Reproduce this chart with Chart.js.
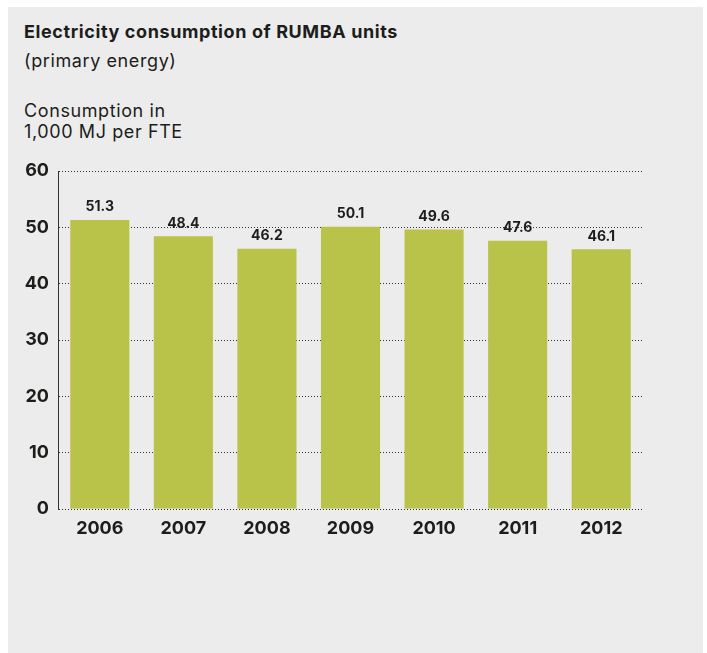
<!DOCTYPE html>
<html>
<head>
<meta charset="utf-8">
<script src="https://cdn.jsdelivr.net/npm/chart.js@4/dist/chart.umd.min.js"></script>
<style>
  body { margin: 0; background: #fff; width: 707px; height: 653px; overflow: hidden; font-family: Inter, Roboto, sans-serif; color: #1d1d1b; }
  #panel { position: absolute; left: 8px; top: 7px; width: 695px; height: 646px; background: #ebeceb; }
  .txt { position: absolute; left: 24px; font-size: 18px; white-space: nowrap; line-height: 21px; letter-spacing: 0.6px; }
  #title { top: 21px; font-weight: bold; }
  #sub { top: 50px; }
  #unit { top: 100px; }
  #wrap { position: absolute; left: 0; top: 0; width: 707px; height: 653px; }
</style>
</head>
<body>
<div id="panel"></div>
<div class="txt" id="title">Electricity consumption of RUMBA units</div>
<div class="txt" id="sub">(primary energy)</div>
<div class="txt" id="unit">Consumption in<br>1,000 MJ per FTE</div>
<div id="wrap"><canvas id="chart"></canvas></div>
<script>
const years = ["2006", "2007", "2008", "2009", "2010", "2011", "2012"];
const consumption = [51.3, 48.4, 46.2, 50.1, 49.6, 47.6, 46.1];
const yTicks = [0, 10, 20, 30, 40, 50, 60];

const barColor = "#b9c249";
const textColor = "#1d1d1b";
const fontFamily = "Inter, Roboto, sans-serif";

// value labels above bars
const valueLabels = {
  id: "valueLabels",
  afterDatasetsDraw(chart) {
    const ctx = chart.ctx;
    const meta = chart.getDatasetMeta(0);
    ctx.save();
    ctx.font = "bold 14px " + fontFamily;
    ctx.fillStyle = textColor;
    ctx.textAlign = "center";
    ctx.textBaseline = "middle";
    meta.data.forEach((bar, i) => {
      ctx.fillText(consumption[i].toFixed(1), bar.x, bar.y - 13);
    });
    ctx.restore();
  },
};

function drawChart() {
  new Chart(document.getElementById("chart"), {
    type: "bar",
    data: {
      labels: years,
      datasets: [
        {
          data: consumption,
          backgroundColor: barColor,
          borderWidth: 0,
          barPercentage: 0.707,
          categoryPercentage: 1,
        },
      ],
    },
    options: {
      responsive: true,
      maintainAspectRatio: false,
      animation: false,
      layout: { padding: { left: 0, top: 171, right: 64, bottom: 104 } },
      plugins: { legend: { display: false }, tooltip: { enabled: false } },
      scales: {
        x: {
          grid: { display: false, drawTicks: false },
          border: { display: false },
          ticks: {
            padding: 9,
            color: textColor,
            font: { family: fontFamily, size: 18, weight: "bold" },
          },
          afterFit(scale) {
            scale.height = 40;
          },
        },
        y: {
          min: 0,
          max: 60,
          afterBuildTicks(scale) {
            scale.ticks = yTicks.map((v) => ({ value: v }));
          },
          grid: { color: "#333", lineWidth: 1, drawTicks: false },
          border: { display: true, color: "#333", dash: [1, 2] },
          ticks: {
            padding: 9,
            color: textColor,
            font: { family: fontFamily, size: 18, weight: "bold" },
          },
          afterFit(scale) {
            scale.width = 58;
          },
        },
      },
    },
    plugins: [
      valueLabels,
      {
        id: "dottedGrid",
        beforeDraw(chart) {
          chart.scales.y.options.grid.borderDash = [1, 2];
        },
      },
    ],
  });
}

Promise.all([
  document.fonts.load("bold 18px Inter"),
  document.fonts.load("bold 14px Inter"),
]).then(drawChart, drawChart);
</script>
</body>
</html>
